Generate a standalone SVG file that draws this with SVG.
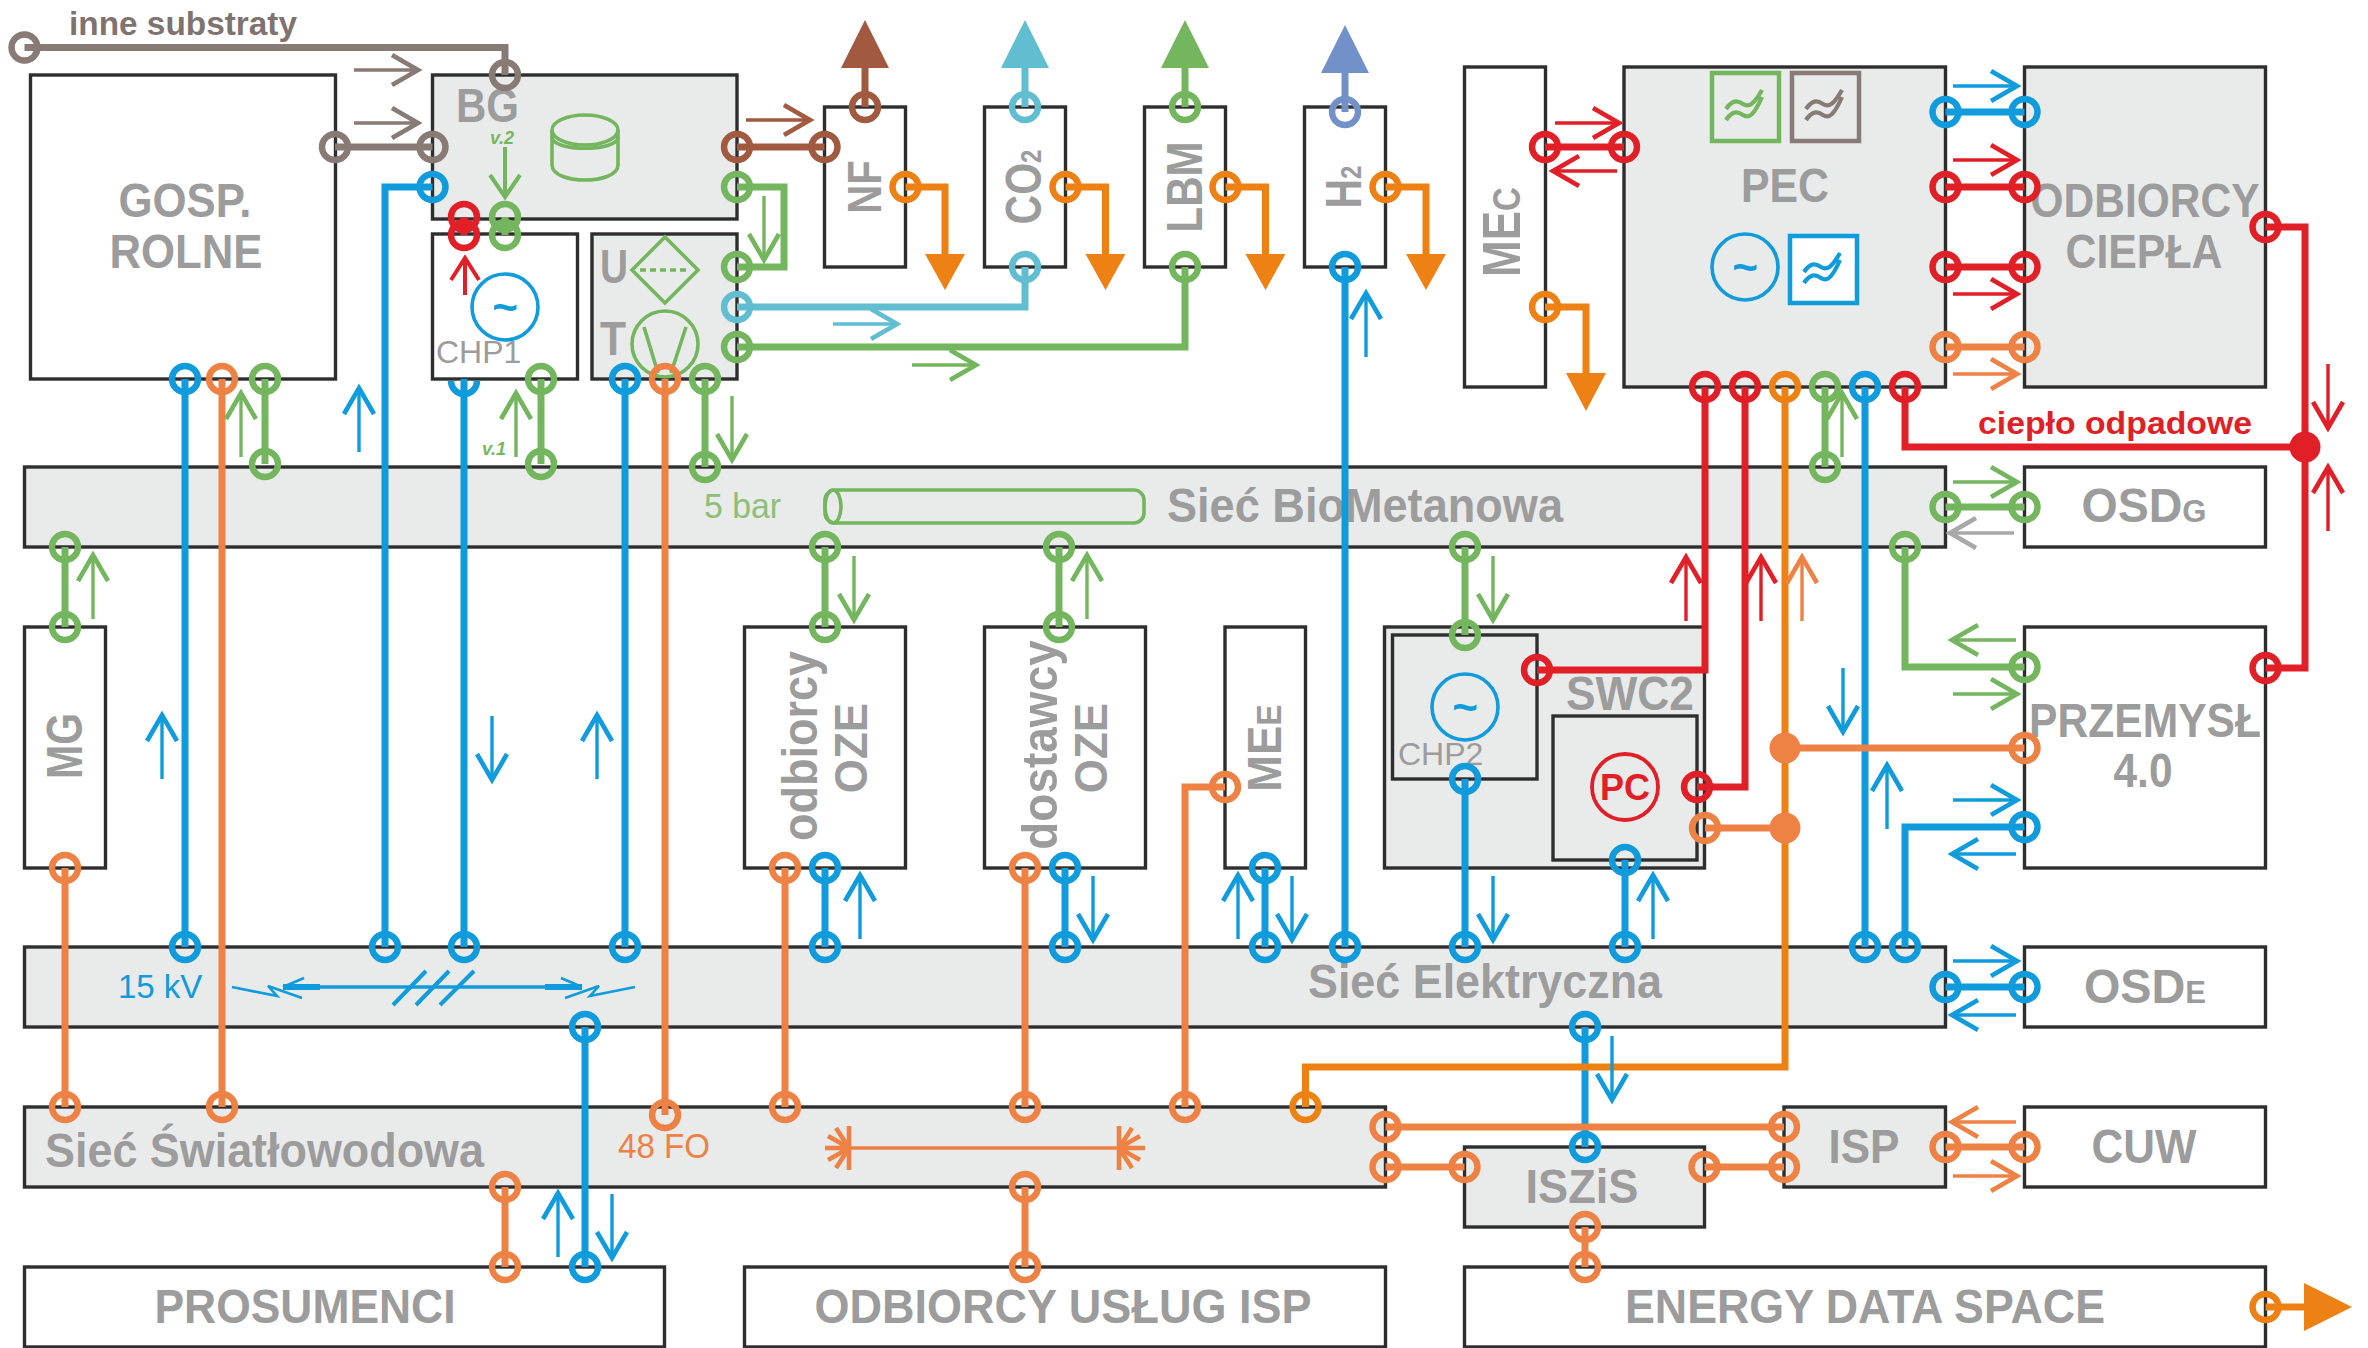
<svg xmlns="http://www.w3.org/2000/svg" width="2368" height="1348" viewBox="0 0 2368 1348">
<style>
text{font-family:"Liberation Sans",Arial,sans-serif}
.n{fill:#fff;stroke:#2e2e2e;stroke-width:3.4}
.f{fill:#e9eaea;stroke:#2e2e2e;stroke-width:3.4}
.t{font-weight:bold;font-size:48px;fill:#9c9c9c;text-anchor:middle}
.u{font-size:44px}
.s{font-size:32px}
.c{font-size:32px;font-weight:normal;fill:#9c9c9c}
.v{font-weight:bold;font-style:italic;font-size:18px;fill:#73b65d}
.sym{fill:none;stroke-width:3.6}
.w{fill:none;stroke-width:7;stroke-linejoin:miter}
.b{stroke:#0f9bdc}.o{stroke:#ee8244}.d{stroke:#ee8114}.g{stroke:#73b65d}.r{stroke:#e11f26}
.br{stroke:#a1593f}.cy{stroke:#61bdd0}.h{stroke:#7391c9}.y{stroke:#887a74}.la{stroke:#a8a8a8}
</style>
<defs>
<circle id="p" r="13" fill="none" stroke-width="6.4"/>
<g id="a" fill="none"><path d="M-64 0H0" stroke-width="3.4"/><path d="M-26 -15L0 0L-26 15" stroke-width="4.6"/></g>
<path id="wave" d="M-19 6c6-9 11-9 17-5s11 0 19-14M-19 17c6-9 11-9 17-5s11 0 19-18" fill="none" stroke-width="4.2"/>
</defs>

<g id="node-gosp"><rect class="n" x="30.5" y="75" width="305" height="304"/><text class="t" x="185" y="217" textLength="133" lengthAdjust="spacingAndGlyphs">GOSP.</text><text class="t" x="186" y="268" textLength="153" lengthAdjust="spacingAndGlyphs">ROLNE</text></g>
<g id="node-bg"><rect class="f" x="432.5" y="75" width="304.5" height="144"/><text class="t" x="487.5" y="122" textLength="63" lengthAdjust="spacingAndGlyphs">BG</text><text class="v" x="490" y="144">v.2</text>
<g class="g sym"><path d="M552 130V165C552 185 618 185 618 165V130"/><ellipse cx="585" cy="130" rx="33" ry="15"/><path d="M552 137C552 152 618 152 618 137"/></g></g>
<g id="node-chp1"><rect class="n" x="432.5" y="234" width="145" height="145"/><text class="c" x="436" y="363">CHP1</text><circle cx="505" cy="307" r="33" fill="none" stroke="#0f9bdc" stroke-width="3.6"/><text x="505" y="322" style="font-size:44px;font-weight:bold;fill:#0f9bdc;text-anchor:middle">~</text><text class="v" x="482" y="455">v.1</text></g>
<g id="node-ut"><rect class="f" x="592" y="234" width="145" height="145"/><text class="t" x="614" y="283" textLength="28" lengthAdjust="spacingAndGlyphs">U</text><text class="t" x="613" y="355" textLength="26" lengthAdjust="spacingAndGlyphs">T</text>
<g class="g sym"><path d="M665 237L698 270L665 303L632 270Z"/><path d="M640 270H690" stroke-dasharray="6 4"/><circle cx="665" cy="344" r="33"/><path d="M644 327L658 373M686 327L671 373"/></g></g>
<g id="node-nf"><rect class="n" x="824.5" y="107" width="81" height="160"/><text class="t" transform="translate(881 187) rotate(-90) scale(1 1.2)" style="font-size:40px">NF</text></g>
<g id="node-co2"><rect class="n" x="984.5" y="107" width="81" height="160"/><text class="t" transform="translate(1041 187) rotate(-90) scale(1 1.2)" style="font-size:41px">CO<tspan style="font-size:24px">2</tspan></text></g>
<g id="node-lbm"><rect class="n" x="1144.5" y="107" width="81" height="160"/><text class="t" transform="translate(1202 187) rotate(-90) scale(1 1.2)" style="font-size:42px">LBM</text></g>
<g id="node-h2"><rect class="n" x="1304.5" y="107" width="81" height="160"/><text class="t" transform="translate(1361 187) rotate(-90) scale(1 1.2)" style="font-size:41px">H<tspan style="font-size:24px">2</tspan></text></g>
<g id="node-mec"><rect class="n" x="1464.5" y="67" width="81" height="320"/><text class="t" transform="translate(1520 232) rotate(-90) scale(1 1.2)" style="font-size:44px">ME<tspan style="font-size:33px">C</tspan></text></g>
<g id="node-pec"><rect class="f" x="1624" y="67" width="321.5" height="320"/><text class="t" x="1785" y="202" textLength="88" lengthAdjust="spacingAndGlyphs">PEC</text>
<rect x="1712" y="73" width="67" height="68" fill="none" stroke="#73b65d" stroke-width="4.5"/><use href="#wave" x="1745" y="103" class="g"/>
<rect x="1792" y="73" width="67" height="68" fill="none" stroke="#887a74" stroke-width="4.5"/><use href="#wave" x="1825" y="103" class="y"/>
<circle cx="1745" cy="267" r="33" fill="none" stroke="#0f9bdc" stroke-width="3.6"/><text x="1745" y="282" style="font-size:44px;font-weight:bold;fill:#0f9bdc;text-anchor:middle">~</text>
<rect x="1790" y="236" width="67" height="67" fill="#fff" stroke="#0f9bdc" stroke-width="4.5"/><use href="#wave" x="1823" y="266" class="b"/></g>
<g id="node-odbiorcy-ciepla"><rect class="f" x="2024.5" y="67" width="241" height="320"/><text class="t" x="2145" y="217" textLength="229" lengthAdjust="spacingAndGlyphs">ODBIORCY</text><text class="t" x="2144" y="268" textLength="157" lengthAdjust="spacingAndGlyphs">CIEPŁA</text></g>
<g id="node-siec-biometanowa"><rect class="f" x="24.5" y="467" width="1921" height="80"/><text class="t" x="1365" y="522" textLength="396" lengthAdjust="spacingAndGlyphs">Sieć BioMetanowa</text><text x="704" y="518" textLength="77" lengthAdjust="spacingAndGlyphs" style="font-size:35px;fill:#8cc078">5 bar</text>
<g class="g sym"><rect x="825" y="490" width="319" height="33" rx="10"/><ellipse cx="833" cy="506.5" rx="8" ry="16.5"/></g></g>
<g id="node-osdg"><rect class="n" x="2024.5" y="467" width="241" height="80"/><text class="t" x="2144" y="522" textLength="125" lengthAdjust="spacingAndGlyphs">OSD<tspan class="s">G</tspan></text></g>
<g id="node-mg"><rect class="n" x="24.5" y="627" width="81" height="241"/><text class="t" transform="translate(82 746) rotate(-90) scale(1 1.2)" style="font-size:41px">MG</text></g>
<g id="node-odbiorcy-oze"><rect class="n" x="744.5" y="627" width="161" height="241"/><text class="t" transform="translate(817 746) rotate(-90) scale(1 1.1)" style="font-size:45px">odbiorcy</text><text class="t u" transform="translate(867 748) rotate(-90) scale(1 1.07)">OZE</text></g>
<g id="node-dostawcy-oze"><rect class="n" x="984.5" y="627" width="161" height="241"/><text class="t" transform="translate(1057 745) rotate(-90) scale(1 1.1)" style="font-size:46px">dostawcy</text><text class="t u" transform="translate(1107 748) rotate(-90) scale(1 1.07)">OZE</text></g>
<g id="node-mee"><rect class="n" x="1225" y="627" width="80.5" height="241"/><text class="t u" transform="translate(1281 748) rotate(-90) scale(1 1.1)">ME<tspan class="s">E</tspan></text></g>
<g id="node-swc2"><rect class="f" x="1384.5" y="627" width="320" height="241"/><text class="t" x="1630" y="710" textLength="128" lengthAdjust="spacingAndGlyphs">SWC2</text></g>
<g id="node-chp2"><rect class="f" x="1392.5" y="635" width="144.5" height="144"/><text class="c" x="1398" y="765">CHP2</text><circle cx="1465" cy="707" r="33" fill="none" stroke="#0f9bdc" stroke-width="3.6"/><text x="1465" y="722" style="font-size:44px;font-weight:bold;fill:#0f9bdc;text-anchor:middle">~</text></g>
<g id="node-pc"><rect class="f" x="1553" y="716" width="144" height="144"/><circle cx="1625" cy="787" r="33" fill="none" stroke="#e11f26" stroke-width="3.8"/><text x="1625" y="800" style="font-size:36px;font-weight:bold;fill:#e11f26;text-anchor:middle">PC</text></g>
<g id="node-przemysl"><rect class="n" x="2024.5" y="627" width="241" height="241"/><text class="t" x="2145" y="737" textLength="232" lengthAdjust="spacingAndGlyphs">PRZEMYSŁ</text><text class="t" x="2143" y="787" textLength="59" lengthAdjust="spacingAndGlyphs">4.0</text></g>
<g id="node-siec-elektryczna"><rect class="f" x="24.5" y="947" width="1921" height="80"/><text class="t" x="1485" y="998" textLength="354" lengthAdjust="spacingAndGlyphs">Sieć Elektryczna</text><text x="118" y="998" style="font-size:33px;fill:#0f9bdc">15 kV</text>
<g fill="none" stroke="#0f9bdc"><path d="M283 987H582" stroke-width="3.4"/><path d="M283 987H320M545 987H582" stroke-width="6"/><path d="M232 987L277 996L268 986L302 998M635 987L590 996L599 986L565 998M283 987L304 978M582 987L561 978" stroke-width="2.6"/><path d="M393 1005L426 971M416 1005L449 971M440 1005L474 971" stroke-width="4"/></g></g>
<g id="node-osde"><rect class="n" x="2024.5" y="947" width="241" height="80"/><text class="t" x="2145" y="1003" textLength="122" lengthAdjust="spacingAndGlyphs">OSD<tspan class="s">E</tspan></text></g>
<g id="node-siec-swiatlowodowa"><rect class="f" x="24.5" y="1107" width="1361" height="80"/><text class="t" x="264.5" y="1167" textLength="439" lengthAdjust="spacingAndGlyphs">Sieć Światłowodowa</text><text x="618" y="1158" textLength="92" lengthAdjust="spacingAndGlyphs" style="font-size:35px;fill:#ee8244">48 FO</text>
<g fill="none" stroke="#ee8244"><path d="M849 1148H1119" stroke-width="3.4"/><path d="M849 1126V1170M1119 1126V1170M849 1148H825M849 1148L828 1136M849 1148L828 1160M849 1148L836 1128M849 1148L836 1168M1119 1148H1145M1119 1148L1140 1136M1119 1148L1140 1160M1119 1148L1132 1128M1119 1148L1132 1168" stroke-width="4.6"/></g></g>
<g id="node-isp"><rect class="f" x="1784" y="1107" width="161.5" height="80"/><text class="t" x="1864" y="1163" textLength="71" lengthAdjust="spacingAndGlyphs">ISP</text></g>
<g id="node-cuw"><rect class="n" x="2024.5" y="1107" width="241" height="80"/><text class="t" x="2144" y="1163" textLength="105" lengthAdjust="spacingAndGlyphs">CUW</text></g>
<g id="node-iszis"><rect class="f" x="1464.5" y="1147" width="240" height="80"/><text class="t" x="1582" y="1203" textLength="113" lengthAdjust="spacingAndGlyphs">ISZiS</text></g>
<g id="node-prosumenci"><rect class="n" x="24.5" y="1267" width="640" height="80"/><text class="t" x="305" y="1323" textLength="301" lengthAdjust="spacingAndGlyphs">PROSUMENCI</text></g>
<g id="node-odbiorcy-isp"><rect class="n" x="744.5" y="1267" width="641" height="80"/><text class="t" x="1063" y="1323" textLength="497" lengthAdjust="spacingAndGlyphs">ODBIORCY USŁUG ISP</text></g>
<g id="node-eds"><rect class="n" x="1464.5" y="1267" width="801" height="80"/><text class="t" x="1865" y="1323" textLength="480" lengthAdjust="spacingAndGlyphs">ENERGY DATA SPACE</text></g>
<g id="labels"><text x="69" y="35" textLength="228" lengthAdjust="spacingAndGlyphs" style="font-size:34px;font-weight:bold;fill:#7f7370">inne substraty</text><text x="1978" y="434" textLength="274" lengthAdjust="spacingAndGlyphs" style="font-size:32px;font-weight:bold;fill:#e11f26">ciepło odpadowe</text></g>

<g id="connectors">
<g class="w y"><path d="M24.5 47.5H505V75"/><path d="M335 147H432.5"/></g>
<g class="w br"><path d="M737 147H824.5"/><path d="M865 107V60"/></g>
<g class="w cy"><path d="M737 307H1025V267"/><path d="M1025 107V60"/></g>
<g class="w g"><path d="M737 187H784V267H737"/><path d="M737 347H1185V267"/><path d="M1185 107V60"/><path d="M505 217V235"/><path d="M265 379V464"/><path d="M541 379V464"/><path d="M705 379V467"/><path d="M1825 387V467"/><path d="M65 547V627"/><path d="M825 547V627"/><path d="M1059 547V627"/><path d="M1465 547V635"/><path d="M1905 547V667H2024.5"/><path d="M1945.5 507H2024.5"/></g>
<g class="w h"><path d="M1345 112V65"/></g>
<g class="w b"><path d="M432.5 187H385V947"/><path d="M185 379V947"/><path d="M464 379V947"/><path d="M625 379V947"/><path d="M1345 267V947"/><path d="M825 868V947"/><path d="M1065 868V947"/><path d="M1265 868V947"/><path d="M1465 779V947"/><path d="M1625 860V947"/><path d="M1865 387V947"/><path d="M1905 947V827H2024.5"/><path d="M1945.5 112H2024.5"/><path d="M1945.5 987H2024.5"/><path d="M585 1027V1267"/><path d="M1585 1027V1147"/></g>
<g class="w r"><path d="M464 217V235"/><path d="M1545 147H1624"/><path d="M1945.5 187H2024.5"/><path d="M1945.5 267H2024.5"/><path d="M1705 387V670H1537"/><path d="M1745 387V787H1697"/><path d="M1905 387V447H2305"/><path d="M2265.5 227H2305V668H2265.5"/></g>
<g class="w d"><path d="M905.5 187H945V260"/><path d="M1065.5 187H1105.5V260"/><path d="M1225.5 187H1265.5V260"/><path d="M1385.5 187H1426V260"/><path d="M1545 307H1586V378"/><path d="M1785 387V1067H1305.5V1107"/><path d="M2265.5 1307H2310"/></g>
<g class="w o"><path d="M222 379V1107"/><path d="M665 379V1115"/><path d="M65 868V1107"/><path d="M785 868V1107"/><path d="M1025 868V1107"/><path d="M1225 787H1185V1107"/><path d="M1945.5 347H2024.5"/><path d="M1785 748H2024.5"/><path d="M1705 828H1785"/><path d="M1385.5 1127H1784"/><path d="M1385.5 1167H1464.5"/><path d="M1704.5 1167H1784"/><path d="M1945.5 1147H2024.5"/><path d="M505 1187V1267"/><path d="M1025 1187V1267"/><path d="M1585 1227V1267"/></g>

<polygon points="865,20 889,68 841,68" fill="#a1593f"/>
<polygon points="1025,20 1049,68 1001,68" fill="#61bdd0"/>
<polygon points="1185,20 1209,68 1161,68" fill="#73b65d"/>
<polygon points="1345,25 1369,73 1321,73" fill="#7391c9"/>
<g fill="#ee8114"><polygon points="945,290 925,254 965,254"/><polygon points="1105.5,290 1085.5,254 1125.5,254"/><polygon points="1265.5,290 1245.5,254 1285.5,254"/><polygon points="1426,290 1406,254 1446,254"/><polygon points="1586,411 1566,373 1606,373"/><polygon points="2352,1307 2304,1283 2304,1331"/></g>
<circle cx="2305" cy="447" r="15.5" fill="#e11f26"/>
<circle cx="1785" cy="748" r="15.5" fill="#ee8244"/>
<circle cx="1785" cy="828" r="15.5" fill="#ee8244"/>

<g class="y"><use href="#p" x="24.5" y="47.5"/><use href="#p" x="505" y="75"/><use href="#p" x="335" y="147"/><use href="#p" x="432.5" y="147"/></g>
<g class="br"><use href="#p" x="737" y="147"/><use href="#p" x="824.5" y="147"/><use href="#p" x="865" y="107"/></g>
<g class="cy"><use href="#p" x="737" y="307"/><use href="#p" x="1025" y="267"/><use href="#p" x="1025" y="107"/></g>
<g class="h"><use href="#p" x="1345" y="112"/></g>
<g class="g"><use href="#p" x="737" y="187"/><use href="#p" x="737" y="267"/><use href="#p" x="737" y="347"/><use href="#p" x="1185" y="267"/><use href="#p" x="1185" y="107"/><use href="#p" x="505" y="217"/><use href="#p" x="505" y="235"/><use href="#p" x="265" y="379"/><use href="#p" x="265" y="464"/><use href="#p" x="541" y="379"/><use href="#p" x="541" y="464"/><use href="#p" x="705" y="379"/><use href="#p" x="705" y="467"/><use href="#p" x="1825" y="387"/><use href="#p" x="1825" y="467"/><use href="#p" x="65" y="547"/><use href="#p" x="65" y="627"/><use href="#p" x="825" y="547"/><use href="#p" x="825" y="627"/><use href="#p" x="1059" y="547"/><use href="#p" x="1059" y="627"/><use href="#p" x="1465" y="547"/><use href="#p" x="1465" y="635"/><use href="#p" x="1905" y="547"/><use href="#p" x="2024.5" y="667"/><use href="#p" x="1945.5" y="507"/><use href="#p" x="2024.5" y="507"/></g>
<g class="b"><use href="#p" x="432.5" y="187"/><use href="#p" x="385" y="947"/><use href="#p" x="185" y="379"/><use href="#p" x="185" y="947"/><path d="M451 381A13 13 0 0 0 477 381" fill="none" stroke-width="6.4"/><use href="#p" x="464" y="947"/><use href="#p" x="625" y="379"/><use href="#p" x="625" y="947"/><use href="#p" x="1345" y="267"/><use href="#p" x="1345" y="947"/><use href="#p" x="825" y="868"/><use href="#p" x="825" y="947"/><use href="#p" x="1065" y="868"/><use href="#p" x="1065" y="947"/><use href="#p" x="1265" y="868"/><use href="#p" x="1265" y="947"/><use href="#p" x="1465" y="779"/><use href="#p" x="1465" y="947"/><use href="#p" x="1625" y="860"/><use href="#p" x="1625" y="947"/><use href="#p" x="1865" y="387"/><use href="#p" x="1865" y="947"/><use href="#p" x="1905" y="947"/><use href="#p" x="2024.5" y="827"/><use href="#p" x="1945.5" y="112"/><use href="#p" x="2024.5" y="112"/><use href="#p" x="1945.5" y="987"/><use href="#p" x="2024.5" y="987"/><use href="#p" x="585" y="1027"/><use href="#p" x="585" y="1267"/><use href="#p" x="1585" y="1027"/><use href="#p" x="1585" y="1147"/></g>
<g class="r"><use href="#p" x="464" y="217"/><use href="#p" x="464" y="235"/><use href="#p" x="1545" y="147"/><use href="#p" x="1624" y="147"/><use href="#p" x="1945.5" y="187"/><use href="#p" x="2024.5" y="187"/><use href="#p" x="1945.5" y="267"/><use href="#p" x="2024.5" y="267"/><use href="#p" x="1705" y="387"/><use href="#p" x="1537" y="670"/><use href="#p" x="1745" y="387"/><use href="#p" x="1697" y="787"/><use href="#p" x="1905" y="387"/><use href="#p" x="2265.5" y="227"/><use href="#p" x="2265.5" y="668"/></g>
<g class="d"><use href="#p" x="905.5" y="187"/><use href="#p" x="1065.5" y="187"/><use href="#p" x="1225.5" y="187"/><use href="#p" x="1385.5" y="187"/><use href="#p" x="1545" y="307"/><use href="#p" x="1785" y="387"/><use href="#p" x="1305.5" y="1107"/><use href="#p" x="2265.5" y="1307"/></g>
<g class="o"><use href="#p" x="222" y="379"/><use href="#p" x="222" y="1107"/><use href="#p" x="665" y="379"/><use href="#p" x="665" y="1115"/><use href="#p" x="65" y="868"/><use href="#p" x="65" y="1107"/><use href="#p" x="785" y="868"/><use href="#p" x="785" y="1107"/><use href="#p" x="1025" y="868"/><use href="#p" x="1025" y="1107"/><use href="#p" x="1225" y="787"/><use href="#p" x="1185" y="1107"/><use href="#p" x="1945.5" y="347"/><use href="#p" x="2024.5" y="347"/><use href="#p" x="2024.5" y="748"/><use href="#p" x="1705" y="828"/><use href="#p" x="1385.5" y="1127"/><use href="#p" x="1784" y="1127"/><use href="#p" x="1385.5" y="1167"/><use href="#p" x="1464.5" y="1167"/><use href="#p" x="1704.5" y="1167"/><use href="#p" x="1784" y="1167"/><use href="#p" x="1945.5" y="1147"/><use href="#p" x="2024.5" y="1147"/><use href="#p" x="505" y="1187"/><use href="#p" x="505" y="1267"/><use href="#p" x="1025" y="1187"/><use href="#p" x="1025" y="1267"/><use href="#p" x="1585" y="1227"/><use href="#p" x="1585" y="1267"/></g>

<g class="y"><use href="#a" transform="translate(418 70)"/><use href="#a" transform="translate(418 123)"/></g>
<g class="br"><use href="#a" transform="translate(810 120)"/></g>
<g class="cy"><use href="#a" transform="translate(897 324)"/></g>
<g class="la"><use href="#a" transform="translate(1950 533) rotate(180)"/></g>
<g class="g" fill="none"><path d="M505 147V197M490 175L505 197L520 175" stroke-width="4"/><use href="#a" transform="translate(764 260) rotate(90)"/><use href="#a" transform="translate(241 393) rotate(270)"/><use href="#a" transform="translate(516 393) rotate(270)"/><use href="#a" transform="translate(732 460) rotate(90)"/><use href="#a" transform="translate(976 365)"/><use href="#a" transform="translate(1842 393) rotate(270)"/><use href="#a" transform="translate(2017 482)"/><use href="#a" transform="translate(1952 640) rotate(180)"/><use href="#a" transform="translate(2017 694)"/><use href="#a" transform="translate(1493 620) rotate(90)"/><use href="#a" transform="translate(93 555) rotate(270)"/><use href="#a" transform="translate(854 620) rotate(90)"/><use href="#a" transform="translate(1087 555) rotate(270)"/></g>
<g class="b"><use href="#a" transform="translate(359 388) rotate(270)"/><use href="#a" transform="translate(1366 293) rotate(270)"/><use href="#a" transform="translate(2017 86)"/><use href="#a" transform="translate(2017 800)"/><use href="#a" transform="translate(1952 854) rotate(180)"/><use href="#a" transform="translate(1843 732) rotate(90)"/><use href="#a" transform="translate(1887 765) rotate(270)"/><use href="#a" transform="translate(1493 940) rotate(90)"/><use href="#a" transform="translate(1653 875) rotate(270)"/><use href="#a" transform="translate(162 715) rotate(270)"/><use href="#a" transform="translate(492 780) rotate(90)"/><use href="#a" transform="translate(597 715) rotate(270)"/><use href="#a" transform="translate(860 875) rotate(270)"/><use href="#a" transform="translate(1093 940) rotate(90)"/><use href="#a" transform="translate(1238 875) rotate(270)"/><use href="#a" transform="translate(1292 940) rotate(90)"/><use href="#a" transform="translate(558 1193) rotate(270)"/><use href="#a" transform="translate(612 1258) rotate(90)"/><use href="#a" transform="translate(1612 1100) rotate(90)"/><use href="#a" transform="translate(2017 961)"/><use href="#a" transform="translate(1952 1015) rotate(180)"/></g>
<g class="r" fill="none"><path d="M465 295V258M451 280L465 258L479 280" stroke-width="4"/><use href="#a" transform="translate(1619 123)"/><use href="#a" transform="translate(1553 171) rotate(180)"/><use href="#a" transform="translate(2017 160)"/><use href="#a" transform="translate(2017 294)"/><use href="#a" transform="translate(2328 428) rotate(90)"/><use href="#a" transform="translate(2328 467) rotate(270)"/><use href="#a" transform="translate(1686 557) rotate(270)"/><use href="#a" transform="translate(1761 557) rotate(270)"/></g>
<g class="o"><use href="#a" transform="translate(2017 374)"/><use href="#a" transform="translate(1802 557) rotate(270)"/><use href="#a" transform="translate(1952 1122) rotate(180)"/><use href="#a" transform="translate(2017 1176)"/></g>
</g>
</svg>
